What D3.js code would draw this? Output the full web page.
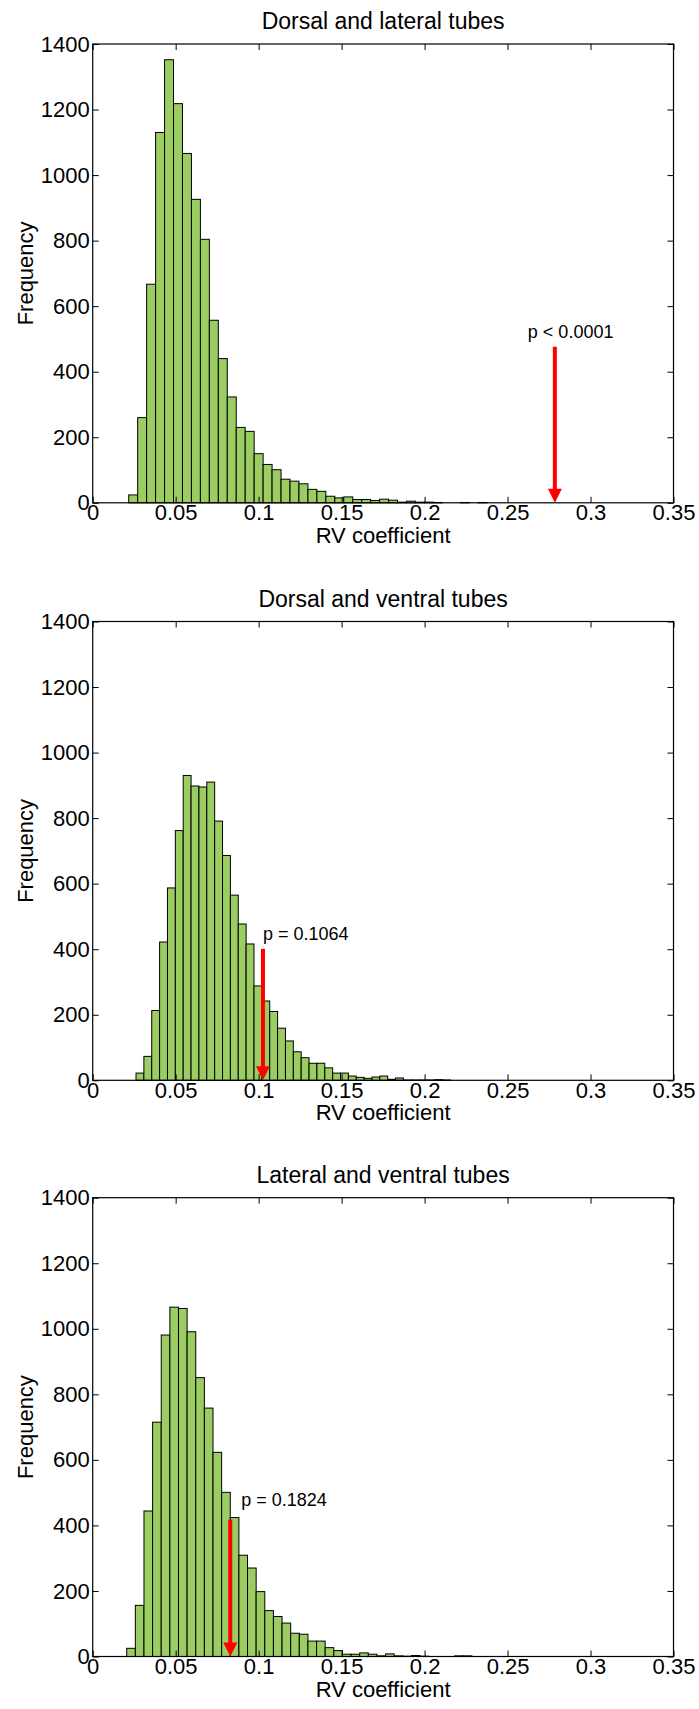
<!DOCTYPE html>
<html>
<head>
<meta charset="utf-8">
<script src="https://cdn.jsdelivr.net/npm/d3@7"></script>
<style>
  body { margin: 0; background: #fff; }
  text { font-family: Arial, "Liberation Sans", sans-serif; fill: #000; }
</style>
</head>
<body>
<svg id="chart" width="699" height="1709"></svg>
<script>
// histogram panels of RV coefficients (permutation test)

const titles = ['Dorsal and lateral tubes', 'Dorsal and ventral tubes', 'Lateral and ventral tubes'];

// first bin edge and bin width of each histogram
const binStarts = [0.0217, 0.0261, 0.0205];
const binWidths = [0.0054, 0.00474, 0.0052];

const countsDorsalLateral = [24, 260, 667, 1130, 1352, 1218, 1066, 926, 804, 557, 440, 323, 230, 218, 150, 117, 101, 72, 66, 58,
  41, 35, 20, 15, 18, 10, 10, 7, 11, 8, 2, 5, 2, 2, 1, 0, 0, 1, 0, 1];
const countsDorsalVentral = [22, 73, 213, 422, 587, 762, 930, 898, 895, 910, 791, 686, 565, 477, 416, 288, 242, 210, 159, 120,
  87, 69, 52, 52, 38, 22, 22, 13, 9, 6, 10, 13, 3, 7, 1, 1, 1, 1, 2, 1];
const countsLateralVentral = [25, 156, 444, 715, 981, 1066, 1062, 991, 851, 758, 623, 501, 424, 309, 270, 198, 140, 122, 102, 71,
  68, 47, 47, 27, 18, 7, 7, 11, 7, 2, 8, 2, 1, 3, 1, 0, 0, 0, 2, 2];
const allCounts = [countsDorsalLateral, countsDorsalVentral, countsLateralVentral];

// observed RV coefficient, arrow top (frequency) and p label
const observedRV = [0.2785, 0.1026, 0.0829];
const arrowTops = [476, 401, 417];
const pLabels = ['p < 0.0001', 'p = 0.1064', 'p = 0.1824'];

const xTicks = [0, 0.05, 0.1, 0.15, 0.2, 0.25, 0.3, 0.35];
const yTicks = [0, 200, 400, 600, 800, 1000, 1200, 1400];

const xLabel = 'RV coefficient';
const yLabel = 'Frequency';

const svg = d3.select('#chart');
const left = 92.7, right = 673.5;
const panelTops = [44, 621.5, 1197.7];
const plotH = 458.8;
const labelShift = [[-27, -9], [0, -9], [11, -14]];   // p label offset from arrow top, px

const fmtX = d => d === 0 ? '0' : String(+d.toFixed(2));

const drawPanel = i => {
  const top = panelTops[i];
  const bottom = top + plotH;
  const g = svg.append('g');

  const xScale = d3.scaleLinear().domain([0, 0.35]).range([left, right]);
  const yScale = d3.scaleLinear().domain([0, 1400]).range([bottom, top]);

  const bins = allCounts[i].map((c, k) => ({
    x0: binStarts[i] + k * binWidths[i],
    x1: binStarts[i] + (k + 1) * binWidths[i],
    n: c
  }));

  g.selectAll('.bar').data(bins.filter(d => d.n > 0))
    .enter().append('rect')
      .attr('class', 'bar')
      .attr('x', d => xScale(d.x0))
      .attr('width', d => xScale(d.x1) - xScale(d.x0))
      .attr('y', d => yScale(d.n))
      .attr('height', d => yScale(0) - yScale(d.n))
      .attr('fill', '#9bcd62')
      .attr('stroke', '#000')
      .attr('stroke-width', 1);

  // axes, ticks pointing inward
  g.append('g')
    .attr('transform', `translate(0,${bottom})`)
    .call(d3.axisBottom(xScale).tickValues(xTicks).tickFormat(fmtX).tickSizeInner(-6).tickSizeOuter(0).tickPadding(2));
  g.append('g')
    .attr('transform', `translate(${left},0)`)
    .call(d3.axisLeft(yScale).tickValues(yTicks).tickFormat(d3.format('d')).tickSizeInner(-6).tickSizeOuter(0).tickPadding(3));
  g.append('g')
    .attr('transform', `translate(0,${top})`)
    .call(d3.axisTop(xScale).tickValues(xTicks).tickFormat('').tickSizeInner(-6).tickSizeOuter(0));
  g.append('g')
    .attr('transform', `translate(${right},0)`)
    .call(d3.axisRight(yScale).tickValues(yTicks).tickFormat('').tickSizeInner(-6).tickSizeOuter(0));

  g.selectAll('.domain').remove();
  g.selectAll('.tick line').attr('stroke', '#000');
  g.selectAll('.tick text').attr('font-size', 22).attr('font-family', 'Arial, "Liberation Sans", sans-serif');

  g.append('rect')
    .attr('x', left).attr('y', top)
    .attr('width', right - left).attr('height', plotH)
    .attr('fill', 'none').attr('stroke', '#000').attr('stroke-width', 1.2);

  // red arrow at observed value
  const ax = xScale(observedRV[i]);
  const headH = 14, headW = 14;
  g.append('line')
    .attr('x1', ax).attr('x2', ax)
    .attr('y1', yScale(arrowTops[i])).attr('y2', yScale(0) - headH + 1)
    .attr('stroke', '#ff0000').attr('stroke-width', 4);
  g.append('path')
    .attr('d', `M${ax - headW / 2},${yScale(0) - headH} L${ax + headW / 2},${yScale(0) - headH} L${ax},${yScale(0)} Z`)
    .attr('fill', '#ff0000');

  g.append('text')
    .attr('x', ax + labelShift[i][0])
    .attr('y', yScale(arrowTops[i]) + labelShift[i][1])
    .attr('font-size', 18)
    .text(pLabels[i]);

  g.append('text')
    .attr('x', (left + right) / 2)
    .attr('y', top - 15)
    .attr('text-anchor', 'middle')
    .attr('font-size', 23)
    .text(titles[i]);

  g.append('text')
    .attr('x', (left + right) / 2)
    .attr('y', bottom + 40)
    .attr('text-anchor', 'middle')
    .attr('font-size', 22)
    .text(xLabel);

  g.append('text')
    .attr('transform', `translate(33,${(top + bottom) / 2}) rotate(-90)`)
    .attr('text-anchor', 'middle')
    .attr('font-size', 22)
    .text(yLabel);
};

[0, 1, 2].forEach(drawPanel);
</script>
</body>
</html>
